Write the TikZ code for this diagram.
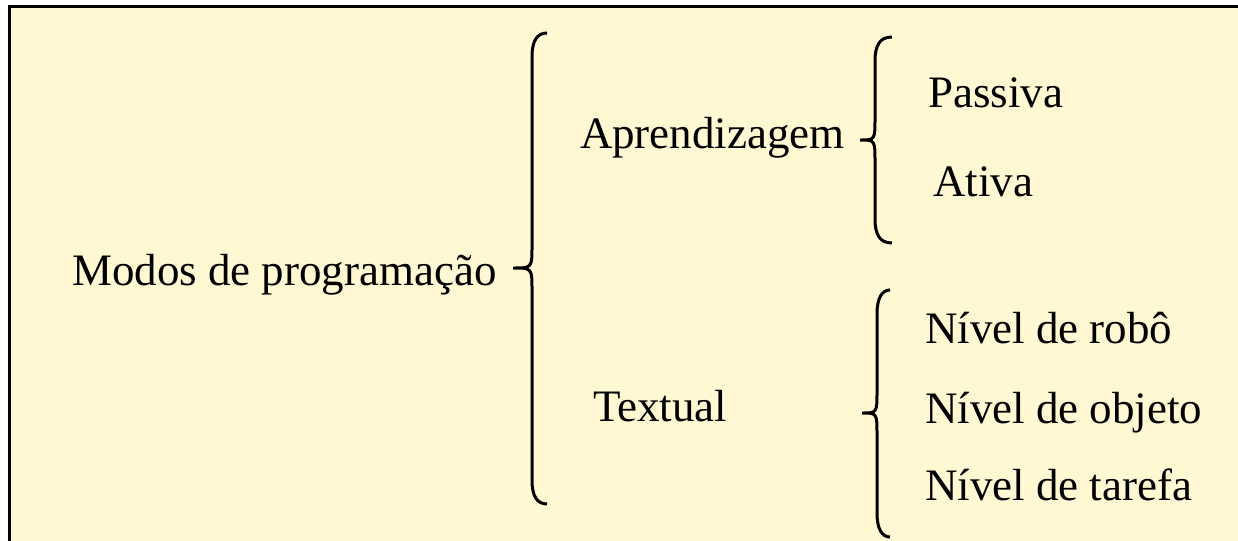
\documentclass[tikz,border=0pt]{standalone}
\usepackage{fontspec}
\setmainfont{Liberation Serif}
\usetikzlibrary{positioning}

\definecolor{fundo}{RGB}{255,248,210}

% chave: ponta x, ponta y, topo y, base y, linha x, extremo x
\newcommand{\chave}[6]{
  \draw[line width=1.5pt] (#6,#3) .. controls (#5+5,#3) and (#5,#3+8) .. (#5,#3+24) -- (#5,#2-22)
    .. controls (#5,#2) .. (#1,#2) .. controls (#5,#2) .. (#5,#2+22)
    -- (#5,#4-24) .. controls (#5,#4-8) and (#5+5,#4) .. (#6,#4);
}

\begin{document}
\begin{tikzpicture}[x=0.5pt, y=-0.5pt,
  texto/.style={anchor=base west, inner sep=0pt, outer sep=0pt, font=\fontsize{22.5pt}{27pt}\selectfont}]

  \useasboundingbox (0,0) rectangle (1238,541);
  \fill[fundo] (9,6) rectangle (1238,541);
  \draw[line width=1.5pt] (1238,6) -- (9,6) -- (9,541);

  % raiz
  \node[texto] (modos) at (72,285) {Modos de programação};

  % primeiro nivel
  \node[texto] (aprend) at (580,148) {Aprendizagem};
  \node[texto] (textual) at (593,421) {Textual};

  % aprendizagem
  \node[texto] (passiva) at (928,107) {Passiva};
  \node[texto] (ativa) at (933,196) {Ativa};

  % textual
  \node[texto] (robo) at (925,343) {Nível de robô};
  \node[texto] (objeto) at (925,423) {Nível de objeto};
  \node[texto] (tarefa) at (925,500) {Nível de tarefa};

  % chaves
  \chave{513}{268}{33}{504}{532}{547}
  \chave{860}{140}{37}{243}{875}{892}
  \chave{862}{413}{290}{537}{877}{890}

\end{tikzpicture}
\end{document}
